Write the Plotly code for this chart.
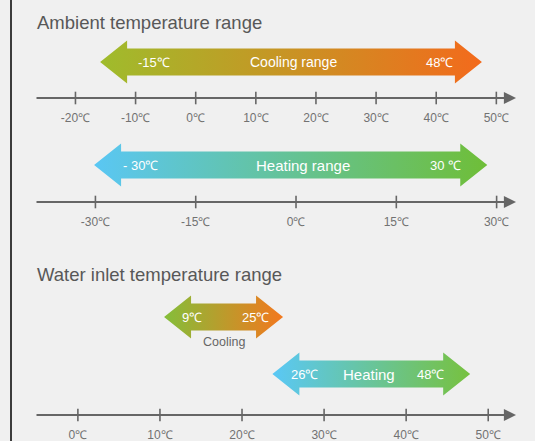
import plotly.graph_objects as go

W, H = 535, 441

# ---------------- data ----------------
amb_ticks = [-20, -10, 0, 10, 20, 30, 40, 50]
amb_tick_text = ["-20℃", "-10℃", "0℃", "10℃", "20℃", "30℃", "40℃", "50℃"]
amb_cool_span = [-15.9, 47.6]          # drawn extent of the cooling arrow
amb_cool_text = ["-15℃", "Cooling range", "48℃"]

amb_heat_ticks = [-30, -15, 0, 15, 30]
amb_heat_tick_text = ["-30℃", "-15℃", "0℃", "15℃", "30℃"]
amb_heat_span = [-30.2, 28.6]
amb_heat_text = ["- 30℃", "Heating range", "30 ℃"]

water_ticks = [0, 10, 20, 30, 40, 50]
water_tick_text = ["0℃", "10℃", "20℃", "30℃", "40℃", "50℃"]
water_cool_span = [10.5, 25.0]
water_cool_text = ["9℃", "25℃", "Cooling"]
water_heat_span = [23.7, 47.8]
water_heat_text = ["26℃", "Heating", "48℃"]

titles = ["Ambient temperature range", "Water inlet temperature range"]

# ---------------- style ----------------
FONT = "Liberation Sans, Arial, sans-serif"
BG = "#f0f0f0"
AX = "#666666"
TICKC = "#727272"

# axis scales (value ranges spanning the full width)
R1 = [-32.55, 56.43]
R2 = [-44.27, 35.74]
R3 = [-9.49, 55.70]

# vertical layout (pixel rows; y axis is pixel-like, reversed)
Y_COOL, Y_AX1 = 62, 98
Y_HEAT, Y_AX2 = 165, 202
Y_WCOOL, Y_WHEAT, Y_AX3 = 317, 374, 415


def px(r):
    return W / (r[1] - r[0])


def arrow(span, yc, r, c0, c1, xa):
    x0, x1 = span
    h = 27 / px(r)
    hh, bh = 21.5, 13.5
    xs = [x0, x0 + h, x0 + h, x1 - h, x1 - h, x1, x1 - h, x1 - h, x0 + h, x0 + h, x0]
    ys = [yc, yc - hh, yc - bh, yc - bh, yc - hh, yc, yc + hh, yc + bh, yc + bh, yc + hh, yc]
    return go.Scatter(x=xs, y=ys, xaxis=xa, yaxis="y", mode="lines", fill="toself",
                      line=dict(width=0, color=c1),
                      fillgradient=dict(type="horizontal", colorscale=[[0, c0], [1, c1]]),
                      hoverinfo="skip", showlegend=False)


def tickmarks(vals, yc, xa):
    return go.Scatter(x=vals, y=[yc] * len(vals), xaxis=xa, yaxis="y", mode="markers",
                      marker=dict(symbol="line-ns", size=9, line=dict(width=1.6, color=AX)),
                      hoverinfo="skip", showlegend=False)


fig = go.Figure()
fig.add_trace(arrow(amb_cool_span, Y_COOL, R1, "#9fbc2c", "#f36a1c", "x"))
fig.add_trace(arrow(amb_heat_span, Y_HEAT, R2, "#5ac7f4", "#6fbe38", "x2"))
fig.add_trace(arrow(water_cool_span, Y_WCOOL, R3, "#84be3a", "#f3781e", "x3"))
fig.add_trace(arrow(water_heat_span, Y_WHEAT, R3, "#5ac8f6", "#77c13f", "x3"))
fig.add_trace(tickmarks(amb_ticks, Y_AX1, "x"))
fig.add_trace(tickmarks(amb_heat_ticks, Y_AX2, "x2"))
fig.add_trace(tickmarks(water_ticks, Y_AX3, "x3"))

ann = []


def txt(t, xpx, y, size=13, color="white", anchor="center"):
    ann.append(dict(text=t, x=xpx / W, y=y, xref="paper", yref="y", showarrow=False,
                    xanchor=anchor, yanchor="middle",
                    font=dict(family=FONT, size=size, color=color)))


# titles
txt(titles[0], 35, 22, size=18.5, color="#585858", anchor="left")
txt(titles[1], 35, 274, size=18.5, color="#585858", anchor="left")

# arrow labels
txt(amb_cool_text[0], 154, Y_COOL)
txt(amb_cool_text[1], 293, Y_COOL, size=14)
txt(amb_cool_text[2], 439, Y_COOL)
txt(amb_heat_text[0], 140, Y_HEAT)
txt(amb_heat_text[1], 303, Y_HEAT, size=15)
txt(amb_heat_text[2], 445, Y_HEAT)
txt(water_cool_text[0], 192, Y_WCOOL)
txt(water_cool_text[1], 255, Y_WCOOL)
txt(water_cool_text[2], 224, 342, size=12.5, color="#666666")
txt(water_heat_text[0], 304, Y_WHEAT)
txt(water_heat_text[1], 369, Y_WHEAT, size=15)
txt(water_heat_text[2], 430, Y_WHEAT)

# axis lines with arrow heads
for yl in (Y_AX1, Y_AX2, Y_AX3):
    ann.append(dict(text="", x=516 / W, y=yl, xref="paper", yref="y",
                    ax=-481, ay=0, axref="pixel", ayref="pixel",
                    showarrow=True, arrowhead=2, arrowsize=1.1, arrowwidth=2.2,
                    arrowcolor=AX, standoff=0, startstandoff=0))

shapes = [dict(type="line", xref="paper", yref="paper", x0=11 / W, x1=11 / W, y0=0, y1=1,
               line=dict(color="#3c3c3c", width=2))]


def xax(r, vals, text, yl, overlay=None):
    d = dict(range=r, domain=[0, 1], anchor="free", position=1 - yl / H,
             showgrid=False, zeroline=False, showline=False, ticks="",
             tickmode="array", tickvals=vals, ticktext=text,
             tickfont=dict(family=FONT, size=12, color=TICKC),
             ticklabelstandoff=11, fixedrange=True)
    if overlay:
        d["overlaying"] = overlay
    return d


fig.update_layout(
    width=W, height=H, margin=dict(l=0, r=0, t=0, b=0),
    paper_bgcolor=BG, plot_bgcolor=BG,
    xaxis=xax(R1, amb_ticks, amb_tick_text, Y_AX1),
    xaxis2=xax(R2, amb_heat_ticks, amb_heat_tick_text, Y_AX2, "x"),
    xaxis3=xax(R3, water_ticks, water_tick_text, Y_AX3, "x"),
    yaxis=dict(range=[H, 0], domain=[0, 1], visible=False, fixedrange=True),
    annotations=ann, shapes=shapes, showlegend=False,
)

fig.write_html("out.html", config={"displayModeBar": False},
               post_script="document.body.style.margin='0';document.body.style.padding='0';")
